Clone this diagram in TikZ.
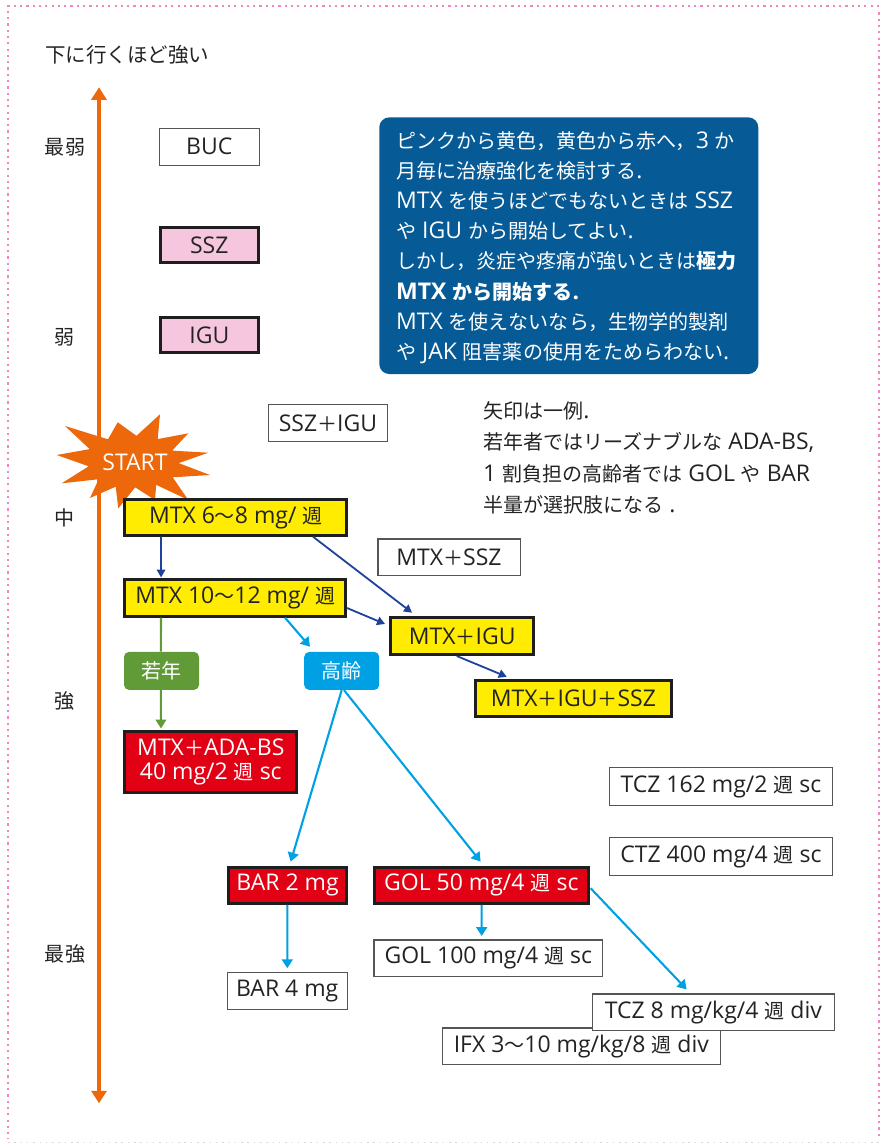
\documentclass[tikz,border=0pt]{standalone}
\usepackage{fontspec}
\setmainfont{Open Sans}
\newfontfamily\latinfont{Open Sans}
\newfontfamily\cjkfont{Noto Sans CJK JP}[Scale=0.87]
\XeTeXinterchartokenstate=1
\newXeTeXintercharclass\jpclass
\newcount\jpc
\def\setjprange#1#2{\jpc=#1\relax\loop\XeTeXcharclass\jpc=\jpclass\relax\ifnum\jpc<#2\advance\jpc by 1\repeat}
\setjprange{"3000}{"30FF}
\setjprange{"3400}{"4DBF}
\setjprange{"4E00}{"9FFF}
\setjprange{"FF00}{"FFEF}
\XeTeXinterchartoks 0 \jpclass = {\cjkfont}
\XeTeXinterchartoks 4095 \jpclass = {\cjkfont}
\XeTeXinterchartoks \jpclass 0 = {\latinfont}
\XeTeXinterchartoks \jpclass 4095 = {\latinfont}
\usetikzlibrary{arrows.meta,calc}
\definecolor{txt}{RGB}{35,35,35}
\definecolor{pinkdot}{RGB}{240,135,190}
\definecolor{graydot}{RGB}{215,215,215}
\definecolor{axisor}{RGB}{236,104,10}
\definecolor{boxgray}{RGB}{85,85,85}
\definecolor{darkline}{RGB}{30,30,30}
\definecolor{yellowc}{RGB}{255,236,0}
\definecolor{redc}{RGB}{225,0,20}
\definecolor{pinkc}{RGB}{246,198,222}
\definecolor{infoblue}{RGB}{6,90,150}
\definecolor{lblue}{RGB}{0,160,228}
\definecolor{dblue}{RGB}{30,65,155}
\definecolor{greenc}{RGB}{96,155,56}
\begin{document}
\begin{tikzpicture}[x=1pt,y=-1pt,
  every node/.style={inner sep=0pt, text=txt, font=\fontsize{23}{27}\selectfont},
  wbox/.style={draw=boxgray, line width=1.2pt, fill=white},
  ybox/.style={draw=darkline, line width=3pt, fill=yellowc},
  rbox/.style={draw=darkline, line width=3pt, fill=redc, text=white},
  pbox/.style={draw=darkline, line width=3pt, fill=pinkc},
  tagbox/.style={rounded corners=5pt, text=white, minimum width=75pt, minimum height=38pt},
  darr/.style={draw=dblue, line width=1.8pt, -{Triangle[length=8pt,width=8.5pt]}},
  larr/.style={draw=lblue, line width=2.1pt, -{Triangle[length=9pt,width=11pt]}},
  garr/.style={draw=greenc, line width=2.1pt, -{Triangle[length=9pt,width=10.5pt]}},
  gline/.style={draw=greenc, line width=2.1pt},
  dotline/.style={draw=pinkdot, line width=2.2pt, dash pattern=on 2.2pt off 4.1pt},
]
\useasboundingbox (0,0) rectangle (886,1144);
% frame
\draw[dotline] (879,6) -- (8,6) -- (8,1139);
\draw[dotline] (879,12.3) -- (879,1139);
\draw[draw=graydot, line width=1.5pt, dash pattern=on 1.5pt off 4.8pt] (8,1142.5) -- (879,1142.5);

% title and axis
\node[anchor=west, font=\fontsize{23.6}{28}\selectfont] (title) at (45,55) {下に行くほど強い};
\coordinate (axtop) at (99,87.3);
\coordinate (axbot) at (99,1103.3);
\draw[draw=axisor, line width=4.3pt, {Triangle[length=12.5pt,width=15pt]}-{Triangle[length=12.5pt,width=15pt]}] (axtop) -- (axbot);
\node (l1) at (65,147.5) {最弱};
\node (l2) at (65,337.5) {弱};
\node (l3) at (65,517.5) {中};
\node (l4) at (65,700.5) {強};
\node (l5) at (65,953.5) {最強};

% info box
\node[fill=infoblue, rounded corners=10pt, minimum width=379pt, minimum height=256.7pt] (info) at (568.8,245.7) {};
\node[anchor=west, align=left, text=white, font=\fontsize{23}{30.2}\selectfont] (infotext) at (396,247.5) {ピンクから黄色，黄色から赤へ，3 か\\月毎に治療強化を検討する.\\MTX を使うほどでもないときは SSZ\\や IGU から開始してよい.\\しかし，炎症や疼痛が強いときは{\bfseries 極力}\\{\bfseries MTX から開始する.}\\MTX を使えないなら，生物学的製剤\\や JAK 阻害薬の使用をためらわない.};

% note
\node[anchor=west, align=left, font=\fontsize{23}{31.5}\selectfont] (note) at (483,458) {矢印は一例.\\若年者ではリーズナブルな ADA-BS,\\1 割負担の高齢者では GOL や BAR\\半量が選択肢になる .};

% START star
\fill[axisor] (56.7,455) -- (88.7,466.3) -- (61.7,483.3) -- (98.7,479.2) -- (90,498) -- (115.7,486.7) -- (118.3,508.3) -- (135.2,487.3) -- (155,500) -- (156.2,484.8) -- (188.3,500) -- (172.7,477.3) -- (210,475) -- (178.7,463.1) -- (208.3,452.7) -- (172.2,450.6) -- (188.3,433.3) -- (157.7,439.1) -- (160,414.3) -- (136.5,435.8) -- (117.7,422.3) -- (108,439.3) -- (65,426) -- (89.7,449.1) -- cycle;
\node[text=white] (start) at (135,462) {START};

% boxes
\node[wbox, minimum width=100pt, minimum height=37pt] (buc) at (209.3,146.7) {BUC};
\node[pbox, minimum width=98.5pt, minimum height=35pt] (ssz) at (209.3,245) {SSZ};
\node[pbox, minimum width=98.5pt, minimum height=35pt] (igu) at (209.3,335) {IGU};
\node[wbox, minimum width=119pt, minimum height=37pt] (ssig) at (327.9,423.3) {SSZ＋IGU};
\node[ybox, minimum width=222pt, minimum height=35.4pt] (m68) at (235.8,517.5) {MTX 6〜8 mg/ 週};
\node[ybox, minimum width=220.7pt, minimum height=36.4pt] (m1012) at (235.2,598) {MTX 10〜12 mg/ 週};
\node[wbox, minimum width=142.2pt, minimum height=36.5pt] (mssz) at (449,557.2) {MTX＋SSZ};
\node[ybox, minimum width=142.7pt, minimum height=37pt] (migu) at (462.2,636) {MTX＋IGU};
\node[ybox, minimum width=195.7pt, minimum height=35.7pt] (mis) at (573.4,698.7) {MTX＋IGU＋SSZ};
\node[tagbox, fill=greenc] (jaku) at (161.5,670.9) {若年};
\node[tagbox, fill=lblue] (kourei) at (341.7,670.9) {高齢};
\node[rbox, minimum width=172pt, minimum height=61.3pt, align=center, font=\fontsize{23}{24}\selectfont] (mada) at (210.8,762.2) {MTX＋ADA-BS\\40 mg/2 週 sc};
\node[wbox, minimum width=222.8pt, minimum height=37.8pt] (tcz162) at (721,786.5) {TCZ 162 mg/2 週 sc};
\node[wbox, minimum width=222.8pt, minimum height=37.8pt] (ctz) at (721,856.5) {CTZ 400 mg/4 週 sc};
\node[rbox, minimum width=118.6pt, minimum height=36.3pt] (bar2) at (287.5,885.3) {BAR 2 mg};
\node[rbox, minimum width=214.3pt, minimum height=36.3pt] (gol50) at (481.3,885.3) {GOL 50 mg/4 週 sc};
\node[wbox, minimum width=228.8pt, minimum height=36.8pt] (gol100) at (488.3,958.3) {GOL 100 mg/4 週 sc};
\node[wbox, minimum width=119.8pt, minimum height=37.1pt] (bar4) at (287.2,990.8) {BAR 4 mg};
\node[wbox, minimum width=278.1pt, minimum height=36.5pt] (ifx) at (581.3,1046.2) {IFX 3〜10 mg/kg/8 週 div};
\node[wbox, minimum width=242.1pt, minimum height=36.5pt] (tcz8) at (713.3,1012.2) {TCZ 8 mg/kg/4 週 div};

% connectors
\draw[darr] ($(m68.south west)+(37.7,0)$) -- ($(m1012.north west)+(37.7,-0.8)$);
\draw[darr] ($(m68.south west)+(189.7,0)$) -- ($(migu.north west)+(22.7,-3.3)$);
\draw[darr] ($(m1012.north east)+(0,29.7)$) -- ($(migu.north west)+(-4.3,8)$);
\draw[darr] ($(migu.south west)+(67.4,0)$) -- ($(mis.north west)+(32.7,-2.6)$);
\draw[larr] ($(m1012.south west)+(161.7,0)$) -- ($(kourei.north west)+(6,-5)$);
\draw[gline] ($(m1012.south west)+(37.7,0)$) -- ($(jaku.north west)+(37,0)$);
\draw[garr] ($(jaku.south west)+(37,0)$) -- ($(mada.north west)+(37.7,-1.5)$);
\draw[larr] ($(kourei.south west)+(37.7,0)$) -- ($(bar2.north west)+(64,-4)$);
\draw[larr] ($(kourei.south west)+(40,0)$) -- ($(gol50.north west)+(108,-4)$);
\draw[larr] ($(bar2.south west)+(60.6,0)$) -- ($(bar4.north west)+(60.6,-3.4)$);
\draw[larr] ($(gol50.south west)+(109,0)$) -- ($(gol100.north west)+(108.4,-3.3)$);
\draw[larr] ($(gol50.north east)+(0.7,22.6)$) -- ($(tcz8.north west)+(95,-4)$);
\end{tikzpicture}
\end{document}
